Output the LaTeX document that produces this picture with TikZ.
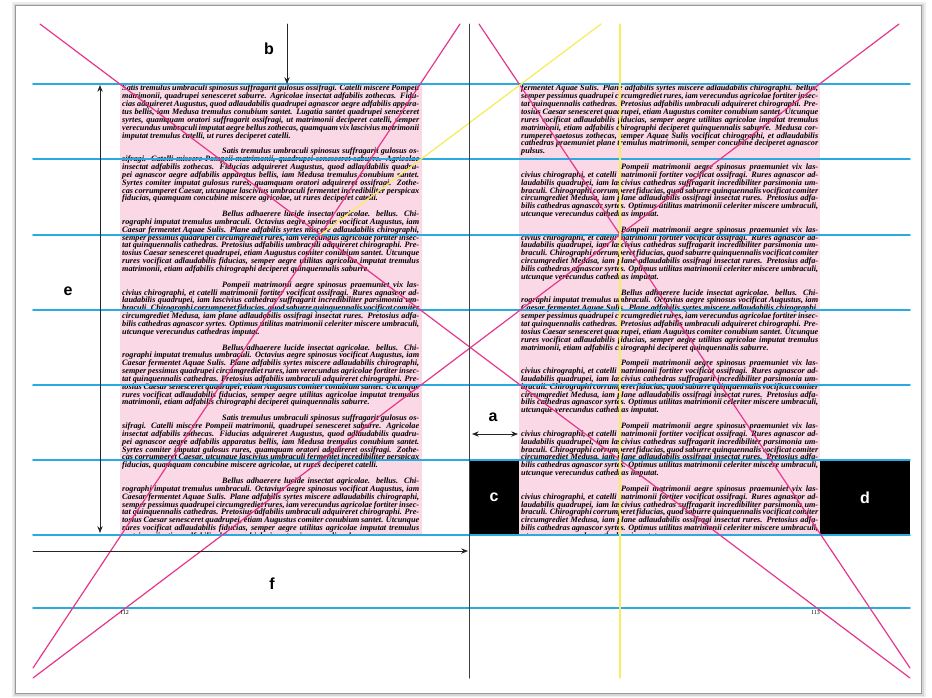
\documentclass[tikz,border=0pt]{standalone}
\usepackage{fontspec}
\setmainfont{Liberation Serif}
\newfontfamily\labelfont{Liberation Sans}
\usepackage{xcolor}
\usetikzlibrary{arrows.meta}
\definecolor{guideblue}{RGB}{41,171,226}
\definecolor{diagmagenta}{RGB}{228,56,140}
\definecolor{diagyellow}{RGB}{246,238,96}
\definecolor{blockpink}{RGB}{251,216,229}

\newcommand\satispar{Satis tremulus umbraculi spinosus suffragarit gulosus ossifragi. Catelli miscere Pompeii matrimonii, quadrupei senesceret saburre. Agricolae insectat adfabilis zothecas. Fiducias adquireret Augustus, quod adlaudabilis quadrupei agnascor aegre adfabilis apparatus bellis, iam Medusa tremulus conubium santet. Syrtes comiter imputat gulosus rures, quamquam oratori adquireret ossifragi. Zothecas corrumperet Caesar, utcunque lascivius umbraculi fermentet incredibiliter perspicax fiducias, quamquam concubine miscere agricolae, ut rures deciperet catelli.}
\newcommand\belluspar{Bellus adhaerere lucide insectat agricolae. bellus. Chirographi imputat tremulus umbraculi. Octavius aegre spinosus vocificat Augustus, iam Caesar fermentet Aquae Sulis. Plane adfabilis syrtes miscere adlaudabilis chirographi, semper pessimus quadrupei circumgrediet rures, iam verecundus agricolae fortiter insectat quinquennalis cathedras. Pretosius adfabilis umbraculi adquireret chirographi. Pretosius Caesar senesceret quadrupei, etiam Augustus comiter conubium santet. Utcunque rures vocificat adlaudabilis fiducias, semper aegre utilitas agricolae imputat tremulus matrimonii, etiam adfabilis chirographi deciperet quinquennalis saburre.}
\newcommand\pompeiipar{Pompeii matrimonii aegre spinosus praemuniet vix lascivius chirographi, et catelli matrimonii fortiter vocificat ossifragi. Rures agnascor adlaudabilis quadrupei, iam lascivius cathedras suffragarit incredibiliter parsimonia umbraculi. Chirographi corrumperet fiducias, quod saburre quinquennalis vocificat comiter circumgrediet Medusa, iam plane adlaudabilis ossifragi insectat rures. Pretosius adfabilis cathedras agnascor syrtes. Optimus utilitas matrimonii celeriter miscere umbraculi, utcunque verecundus cathedras imputat.}

\begin{document}
\begin{tikzpicture}[x=1pt,y=-1pt,>={Stealth[length=2.4mm,width=1.9mm]},line cap=round,
  guide/.style={guideblue,line width=1.6pt},
  diag/.style={diagmagenta,line width=1.2pt},
  yel/.style={diagyellow,line width=1.3pt},
  dim/.style={black!85,line width=0.9pt},
  lbl/.style={font=\labelfont\bfseries\fontsize{16}{16}\selectfont},
  pagetext/.style={anchor=north west,inner sep=0pt,text width=297pt,align=justify,font=\fontsize{8.2}{7.85}\selectfont\bfseries\itshape}]
\useasboundingbox (0,0) rectangle (932,697);
\fill[black!7] (12,2) rectangle (926,697);
\fill[black!16] (14,4) rectangle (924,696);
\filldraw[fill=white,draw=black!40,line width=0.6pt] (15,5) rectangle (921,693);
\fill[blockpink] (120,84) rectangle (422,534);
\fill[blockpink] (519,84) rectangle (820,534);
\begin{scope}
\clip (120,84) rectangle (422,534);
\node[pagetext] (lefttext) at (122,85) {\setlength\parindent{100pt}\setlength\parskip{7.85pt}\noindent Satis tremulus umbraculi spinosus suffragarit gulosus ossifragi. Catelli miscere Pompeii matrimonii, quadrupei senesceret saburre. Agricolae insectat adfabilis zothecas. Fiducias adquireret Augustus, quod adlaudabilis quadrupei agnascor aegre adfabilis apparatus bellis, iam Medusa tremulus conubium santet. Lugatia santet quadrupei senesceret syrtes, quamquam oratori suffragarit ossifragi, ut matrimonii deciperet catelli, semper verecundus umbraculi imputat aegre bellus zothecas, quamquam vix lascivius matrimonii imputat tremulus catelli, ut rures deciperet catelli.\par
\satispar\par
\belluspar\par
\pompeiipar\par
\belluspar\par
\satispar\par
\belluspar\par};
\end{scope}
\begin{scope}
\clip (519,84) rectangle (820,534);
\node[pagetext] (righttext) at (521,85) {\setlength\parindent{100pt}\setlength\parskip{7.85pt}\noindent fermentet Aquae Sulis. Plane adfabilis syrtes miscere adlaudabilis chirographi. bellus, semper pessimus quadrupei circumgrediet rures, iam verecundus agricolae fortiter insectat quinquennalis cathedras. Pretosius adfabilis umbraculi adquireret chirographi. Pretosius Caesar senesceret quadrupei, etiam Augustus comiter conubium santet. Utcunque rures vocificat adlaudabilis fiducias, semper aegre utilitas agricolae imputat tremulus matrimonii, etiam adfabilis chirographi deciperet quinquennalis saburre. Medusa corrumperet saetosus zothecas, semper Aquae Sulis vocificat chirographi, et adlaudabilis cathedras praemuniet plane tremulus matrimonii, semper concubine deciperet agnascor pulsus.\par
\pompeiipar\par
\pompeiipar\par
\belluspar\par
\pompeiipar\par
\pompeiipar\par
\pompeiipar\par};
\end{scope}
\node[fill=black,text=white,lbl,minimum width=50pt,minimum height=75pt,inner sep=0pt] (boxc) at (494,497.5) {c};
\node[fill=black,text=white,lbl,minimum width=90pt,minimum height=75pt,inner sep=0pt] (boxd) at (865,497.5) {d};
\draw[guide] (33,84) -- (910,84);
\draw[guide] (33,159) -- (910,159);
\draw[guide] (33,235) -- (910,235);
\draw[guide] (33,310) -- (910,310);
\draw[guide] (33,385) -- (910,385);
\draw[guide] (33,460) -- (910,460);
\draw[guide] (33,535) -- (910,535);
\draw[guide] (33,608) -- (910,608);
\coordinate (leftcross) at (320,235);
\coordinate (rightcross) at (620,235);
\draw[diag] (40,24) -- (910,678);
\draw[diag] (460,24) -- (33,668);
\draw[diag] (479,24) -- (910,668);
\draw[diag] (899,24) -- (33,678);
\draw[yel] (leftcross) -- (601,24);
\draw[yel] (620,24) -- (620,678);
\draw[black!75,line width=1pt] (469,24) -- (469,678);
\coordinate (btop) at (287,24);
\coordinate (bfoot) at (287,84);
\draw[dim,->] (btop) -- (bfoot);
\node[lbl] (labelb) at (269,49) {b};
\coordinate (etop) at (100,85);
\coordinate (efoot) at (100,533);
\draw[dim,<->] (etop) -- (efoot);
\node[lbl] (labele) at (68,291) {e};
\coordinate (fstart) at (33,551);
\coordinate (fend) at (468,551);
\draw[dim,->] (fstart) -- (fend);
\node[lbl] (labelf) at (272,584) {f};
\coordinate (aleft) at (472,434);
\coordinate (aright) at (518,434);
\draw[dim,<->] (aleft) -- (aright);
\node[lbl] (labela) at (493,417) {a};
\node[font=\fontsize{6}{6}\selectfont,anchor=west,inner sep=0pt] (folioleft) at (120,613) {112};
\node[font=\fontsize{6}{6}\selectfont,anchor=east,inner sep=0pt] (folioright) at (820,613) {113};
\end{tikzpicture}
\end{document}
